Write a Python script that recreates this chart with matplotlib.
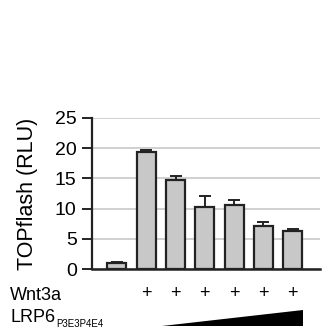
import matplotlib
matplotlib.use('Agg')
import matplotlib.pyplot as plt
from matplotlib.patches import Polygon
import matplotlib.transforms as mtransforms

plt.rcParams['font.family'] = ['Liberation Sans', 'DejaVu Sans']

values = [1.0, 19.3, 14.7, 10.3, 10.6, 7.2, 6.3]
errors = [0.1, 0.35, 0.7, 1.8, 0.9, 0.5, 0.35]
wnt3a  = ["", "+", "+", "+", "+", "+", "+"]
yticks = [0, 5, 10, 15, 20, 25]

fig = plt.figure(figsize=(3.26, 3.36), dpi=100)
ax = fig.add_axes([92/326, 1 - 269/336, (320-92)/326, (269-118)/336])

x = list(range(len(values)))
ax.yaxis.grid(True, color='#c8c8c8', linewidth=1.2, zorder=0)
ax.set_axisbelow(True)
ax.bar(x, values, width=0.65, color='#c8c8c8', edgecolor='#222222',
       linewidth=1.6, zorder=3)
ax.errorbar(x, values, yerr=[[0]*len(values), errors], fmt='none',
            ecolor='#222222', elinewidth=1.4, capsize=4, capthick=1.4, zorder=2)

ax.set_xlim(-0.85, 6.93)
ax.set_ylim(0, 25)
ax.set_yticks(yticks)
ax.set_xticks([])
ax.tick_params(axis='y', labelsize=14, length=7, width=1.4, color='#222222', pad=4)
for s in ['top', 'right']:
    ax.spines[s].set_visible(False)
ax.spines['left'].set_linewidth(1.6)
ax.spines['bottom'].set_linewidth(1.8)
ax.spines['left'].set_color('#222222')
ax.spines['bottom'].set_color('#222222')
ax.set_ylabel("TOPflash (RLU)", fontsize=15.5, labelpad=12)

# row labels under the axis
trans = mtransforms.blended_transform_factory(ax.transData, fig.transFigure)
fig.text(10/326, 1 - 295/336, "Wnt3a", fontsize=13, va='center', ha='left')
for xi, s in zip(x, wnt3a):
    ax.text(xi, 1 - 294/336, s, transform=trans, fontsize=13, ha='center', va='center')
fig.text(10/326, 1 - 318/336, "LRP6", fontsize=13, va='center', ha='left')
fig.text(56/326, 1 - 324/336, "P3E3P4E4", fontsize=7, va='center', ha='left')
wedge = Polygon([(1.55, 1 - 326/336), (6.35, 1 - 326/336), (6.35, 1 - 310/336)],
                closed=True, transform=trans, facecolor='black', edgecolor='none',
                clip_on=False)
ax.add_patch(wedge)

fig.savefig("out.png", dpi=100)
